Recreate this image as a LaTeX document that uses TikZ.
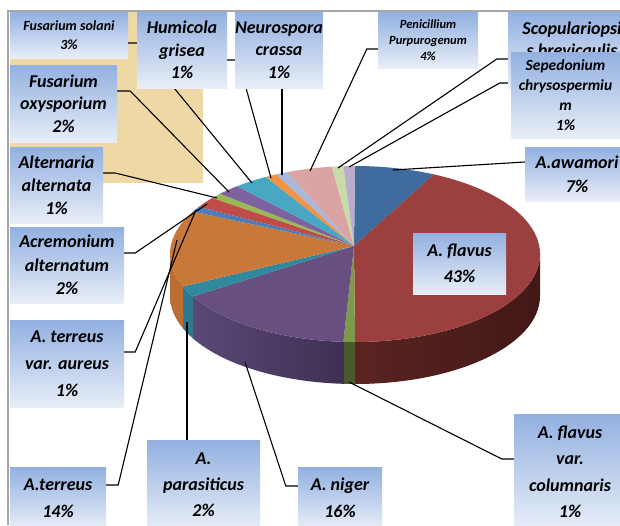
\documentclass[tikz,border=0pt]{standalone}
\usepackage{fontspec}
\setmainfont{Carlito}
\usepackage{xcolor}
\usepackage{tikz}
\usetikzlibrary{calc}

\definecolor{frameGray}{HTML}{A6A6A6}
\definecolor{papyrus}{HTML}{EDD8A6}
\definecolor{lblTop}{HTML}{92B0E0}
\definecolor{lblBot}{HTML}{E8EEF8}
% slice colours (top face)
\definecolor{cAwamori}{HTML}{3F6B9E}
\definecolor{cFlavus}{HTML}{9B403E}
\definecolor{cColumn}{HTML}{7C9A47}
\definecolor{cNiger}{HTML}{67507F}
\definecolor{cParasit}{HTML}{3189A0}
\definecolor{cTerreus}{HTML}{C87838}
\definecolor{cAureus}{HTML}{4A7EBB}
\definecolor{cAcrem}{HTML}{BF4C49}
\definecolor{cAltern}{HTML}{98B954}
\definecolor{cOxysp}{HTML}{7E62A0}
\definecolor{cSolani}{HTML}{48A8C4}
\definecolor{cHumicola}{HTML}{F29443}
\definecolor{cNeurosp}{HTML}{A6B9DC}
\definecolor{cPenic}{HTML}{D9A4A3}
\definecolor{cScopul}{HTML}{C9DBA7}
\definecolor{cSepedon}{HTML}{B8ADCB}
% side walls
\definecolor{wFlavusL}{HTML}{421817}
\definecolor{wFlavusR}{HTML}{5A2421}
\definecolor{wColumn}{HTML}{4B5A2E}
\definecolor{wNigerL}{HTML}{5A4878}
\definecolor{wNigerR}{HTML}{3E3052}
\definecolor{wParasit}{HTML}{2C7A8E}
\definecolor{wTerreus}{HTML}{BC6D32}

\pgfdeclarelayer{pie}
\pgfdeclarelayer{lines}
\pgfsetlayers{pie,lines,main}

\begin{document}
\begin{tikzpicture}[x=1pt, y=1pt]
\tikzset{
  lbl/.style={inner sep=0pt, align=center, top color=lblTop, bottom color=lblBot},
  fbig/.style={font=\fontsize{18}{#1}\selectfont\bfseries\itshape},
  fmid/.style={font=\fontsize{15.5}{20}\selectfont\bfseries\itshape},
  fsmall/.style={font=\fontsize{12.5}{16}\selectfont\bfseries\itshape},
  lead/.style={draw=black, line width=1.1pt},
}
\useasboundingbox (0,0) rectangle (620,-525);
\clip (0,0) rectangle (620,-525);

\begin{pgfonlayer}{pie}
\fill[white] (0,0) rectangle (620,-525);
\fill[papyrus] (10,-12) rectangle (203,-183);

\coordinate (ctr) at (355,-254);
\coordinate (apex) at (354,-246);

% side walls of the front slices
\foreach \ta/\tb/\cl/\cr in {0/-90/wFlavusL/wFlavusR, -90/-93.6/wColumn/wColumn,
    -93.6/-151.2/wNigerR/wNigerL, -151.2/-158.4/wParasit/wParasit, -158.4/-180/wTerreus/wTerreus}
  \shade[left color=\cr, right color=\cl] ($(ctr)+(\ta:185pt and 88pt)$)
    arc[start angle=\ta, end angle=\tb, x radius=185pt, y radius=88pt] -- ++(0,-42)
    arc[start angle=\tb, end angle=\ta, x radius=185pt, y radius=88pt] -- cycle;

% top faces
\def\tcur{90}
\foreach \pct/\cl in {7/cAwamori, 43/cFlavus, 1/cColumn, 16/cNiger, 2/cParasit, 14/cTerreus,
    1/cAureus, 2/cAcrem, 1/cAltern, 2/cOxysp, 3/cSolani, 1/cHumicola, 1/cNeurosp,
    4/cPenic, 1/cScopul, 1/cSepedon} {
  \pgfmathsetmacro\tend{\tcur-3.6*\pct}
  \fill[\cl] (apex) -- ($(ctr)+(\tcur:185pt and 88pt)$)
    arc[start angle=\tcur, end angle=\tend, x radius=185pt, y radius=88pt] -- cycle;
  \xdef\tcur{\tend}
}
\end{pgfonlayer}

% leader ends on the slices
\coordinate (e-awamori) at (393,-170);
\coordinate (e-sepedon) at (349,-167);
\coordinate (e-scopul) at (338,-168);
\coordinate (e-penic) at (310,-171);
\coordinate (e-neurosp) at (282,-175);
\coordinate (e-humicola) at (271,-178);
\coordinate (e-solani) at (252,-183);
\coordinate (e-oxysp) at (229,-192);
\coordinate (e-altern) at (217,-198);
\coordinate (e-acrem) at (207,-204);
\coordinate (e-aureus) at (196,-210);
\coordinate (e-terreus) at (177,-240);
\coordinate (e-parasit) at (187,-322);
\coordinate (e-niger) at (245,-362);
\coordinate (e-column) at (349,-382);

\draw[frameGray, line width=2pt] (620,-11) -- (8,-11) -- (8,-525);

% labels
\node[lbl, fbig=22.5, minimum width=107pt, minimum height=77pt] (oxysp) at (63.5,-103.5) {Fusarium\\oxysporium\\2\%};
\node[lbl, fbig=23, minimum width=93pt, minimum height=76pt] (altern) at (56.5,-185) {Alternaria\\alternata\\1\%};
\node[lbl, fbig=23.5, minimum width=114pt, minimum height=76pt] (acrem) at (67,-265) {Acremonium\\alternatum\\2\%};
\node[lbl, fbig=27, minimum width=114pt, minimum height=87pt] (aureus) at (67,-363.5) {A. terreus\\var. aureus\\1\%};
\node[lbl, fbig=27, minimum width=96pt, minimum height=62pt] (terreus) at (58,-498) {A.terreus\\14\%};
\node[lbl, fbig=26, minimum width=113pt, minimum height=90pt] (parasit) at (203.5,-485) {A.\\parasiticus\\2\%};
\node[lbl, fbig=27, minimum width=84pt, minimum height=62pt] (niger) at (340,-498) {A. niger\\16\%};
\node[lbl, fbig=26.5, minimum width=112pt, minimum height=116pt] (column) at (570,-472) {A. flavus\\var.\\columnaris\\1\%};
\node[lbl, fbig=26, minimum width=93pt, minimum height=61pt] (flavus) at (459.5,-263.5) {A. flavus\\43\%};
\node[lbl, fbig=24, minimum width=104pt, minimum height=54pt] (awamori) at (577,-174) {A.awamori\\7\%};
\node[lbl, font=\fontsize{14}{19}\selectfont\bfseries\itshape, minimum width=118pt, minimum height=46pt] (solani) at (69,-35) {Fusarium solani\\3\%};
\node[lbl, fbig=22.5, minimum width=90pt, minimum height=76pt] (humicola) at (182,-50) {Humicola\\grisea\\1\%};
\node[lbl, fbig=22.5, minimum width=78pt, minimum height=76pt] (neurosp) at (279,-50) {Neurospora\\crassa\\1\%};
\node[lbl, fsmall, minimum width=100pt, minimum height=56pt] (penic) at (428,-40) {Penicillium\\Purpurogenum\\4\%};
\node[lbl, fbig=22, minimum width=128pt, minimum height=76pt] (scopul) at (572,-50) {Scopulariopsi\\s brevicaulis\\1\%};
\node[lbl, fmid, minimum width=109pt, minimum height=86pt] (sepedon) at (565.5,-95) {Sepedonium\\chrysospermiu\\m\\1\%};

% leader lines
\begin{pgfonlayer}{lines}
\draw[lead] ([yshift=-8pt]solani.east) -- ++(9,0) -- (e-solani);
\draw[lead] ([yshift=12.5pt]oxysp.east) -- ++(13,0) -- (e-oxysp);
\draw[lead] ([yshift=12pt]altern.east) -- ++(12,0) -- (e-altern);
\draw[lead] ([yshift=12pt]acrem.east) -- ++(11,0) -- (e-acrem);
\draw[lead] ([yshift=11.5pt]aureus.east) -- ++(11,0) -- (e-aureus);
\draw[lead] ([yshift=13pt]terreus.east) -- ++(12,0) -- (e-terreus);
\draw[lead] ([xshift=-16.5pt]parasit.north) -- (e-parasit);
\draw[lead] ([yshift=12pt]niger.west) -- ++(-12,0) -- (e-niger);
\draw[lead] ([yshift=13pt]column.west) -- ++(-12,0) -- (e-column);
\draw[lead] ([yshift=12pt]awamori.west) -- (e-awamori);
\draw[lead] ([yshift=-10pt]humicola.east) -- ++(11,0) -- (e-humicola);
\draw[lead] ([xshift=3pt]neurosp.south) -- (e-neurosp);
\draw[lead] ([yshift=-9pt]penic.west) -- ++(-11,0) -- (e-penic);
\draw[lead] ([yshift=-9pt]scopul.west) -- ++(-11,0) -- (e-scopul);
\draw[lead] ([yshift=12pt]sepedon.west) -- ++(-11,0) -- (e-sepedon);
\end{pgfonlayer}
\end{tikzpicture}
\end{document}
